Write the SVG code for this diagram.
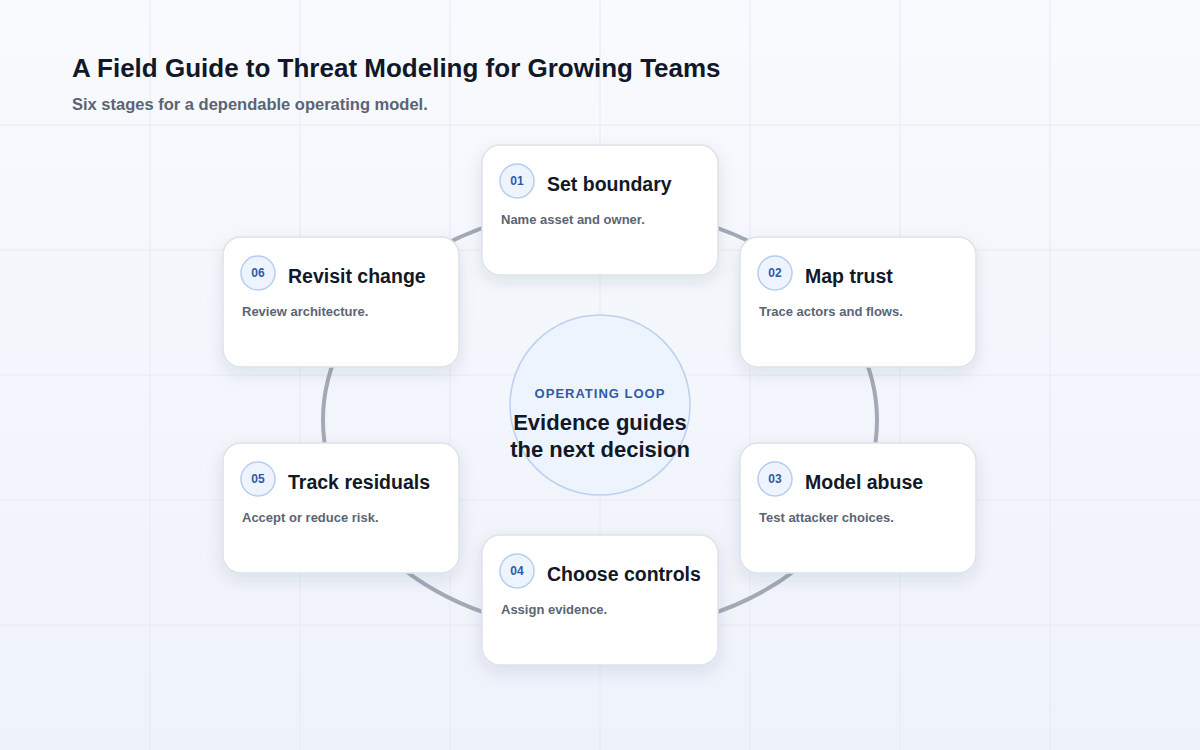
<svg xmlns="http://www.w3.org/2000/svg" width="1200" height="750" viewBox="0 0 1200 750">
<defs>
<linearGradient id="bg" x1="0" y1="0" x2="0" y2="1"><stop offset="0" stop-color="#f8fafd"/><stop offset="1" stop-color="#eef2fa"/></linearGradient>
<filter id="sh" x="-20%" y="-20%" width="140%" height="150%"><feDropShadow dx="0" dy="6" stdDeviation="8" flood-color="#1e2a4a" flood-opacity="0.10"/></filter>
<style>
.card{fill:#fff;stroke:#dde2ea;stroke-width:1.5}
.badge{fill:#eef4fd;stroke:#b8cdee;stroke-width:1.5}
.num{font:700 12px "Liberation Sans",Arial,sans-serif;fill:#2f5aa8;text-anchor:middle}
.title{font:700 19.5px "Liberation Sans",Arial,sans-serif;fill:#111827}
.desc{font:700 13px "Liberation Sans",Arial,sans-serif;fill:#5b6474}
.grid{stroke:#e6eaf2;stroke-width:1}
</style>
</defs>
<rect width="1200" height="750" fill="url(#bg)"/>
<g class="grid">
<line x1="150" y1="0" x2="150" y2="750"/><line x1="300" y1="0" x2="300" y2="750"/><line x1="450" y1="0" x2="450" y2="750"/><line x1="600" y1="0" x2="600" y2="750"/><line x1="750" y1="0" x2="750" y2="750"/><line x1="900" y1="0" x2="900" y2="750"/><line x1="1050" y1="0" x2="1050" y2="750"/>
<line x1="0" y1="125" x2="1200" y2="125"/><line x1="0" y1="250" x2="1200" y2="250"/><line x1="0" y1="375" x2="1200" y2="375"/><line x1="0" y1="500" x2="1200" y2="500"/><line x1="0" y1="625" x2="1200" y2="625"/>
</g>
<text x="72" y="77" style="font:700 26px 'Liberation Sans',Arial,sans-serif;fill:#111827">A Field Guide to Threat Modeling for Growing Teams</text>
<text x="72" y="110" style="font:700 16.5px 'Liberation Sans',Arial,sans-serif;fill:#5b6474">Six stages for a dependable operating model.</text>
<g id="connectors"><ellipse cx="600" cy="420" rx="277" ry="212" fill="none" stroke="#a3aab6" stroke-width="4"/></g>
<g id="center">
<circle cx="600" cy="405" r="90" fill="#eef4fd" stroke="#bcd0ef" stroke-width="1.5"/>
<text x="600" y="398" text-anchor="middle" style="font:700 13px 'Liberation Sans',Arial,sans-serif;fill:#2f5aa8;letter-spacing:1px">OPERATING LOOP</text>
<text x="600" y="430" text-anchor="middle" style="font:700 22px 'Liberation Sans',Arial,sans-serif;fill:#111827">Evidence guides</text>
<text x="600" y="457" text-anchor="middle" style="font:700 22px 'Liberation Sans',Arial,sans-serif;fill:#111827">the next decision</text>
</g>
<g id="n01" transform="translate(482,145)"><rect class="card" width="236" height="130" rx="18" filter="url(#sh)"/><circle class="badge" cx="35" cy="36" r="17"/><text class="num" x="35" y="40">01</text><text class="title" x="65" y="46">Set boundary</text><text class="desc" x="19" y="79">Name asset and owner.</text></g>
<g id="n02" transform="translate(740,237)"><rect class="card" width="236" height="130" rx="18" filter="url(#sh)"/><circle class="badge" cx="35" cy="36" r="17"/><text class="num" x="35" y="40">02</text><text class="title" x="65" y="46">Map trust</text><text class="desc" x="19" y="79">Trace actors and flows.</text></g>
<g id="n03" transform="translate(740,443)"><rect class="card" width="236" height="130" rx="18" filter="url(#sh)"/><circle class="badge" cx="35" cy="36" r="17"/><text class="num" x="35" y="40">03</text><text class="title" x="65" y="46">Model abuse</text><text class="desc" x="19" y="79">Test attacker choices.</text></g>
<g id="n04" transform="translate(482,535)"><rect class="card" width="236" height="130" rx="18" filter="url(#sh)"/><circle class="badge" cx="35" cy="36" r="17"/><text class="num" x="35" y="40">04</text><text class="title" x="65" y="46">Choose controls</text><text class="desc" x="19" y="79">Assign evidence.</text></g>
<g id="n05" transform="translate(223,443)"><rect class="card" width="236" height="130" rx="18" filter="url(#sh)"/><circle class="badge" cx="35" cy="36" r="17"/><text class="num" x="35" y="40">05</text><text class="title" x="65" y="46">Track residuals</text><text class="desc" x="19" y="79">Accept or reduce risk.</text></g>
<g id="n06" transform="translate(223,237)"><rect class="card" width="236" height="130" rx="18" filter="url(#sh)"/><circle class="badge" cx="35" cy="36" r="17"/><text class="num" x="35" y="40">06</text><text class="title" x="65" y="46">Revisit change</text><text class="desc" x="19" y="79">Review architecture.</text></g>
</svg>
